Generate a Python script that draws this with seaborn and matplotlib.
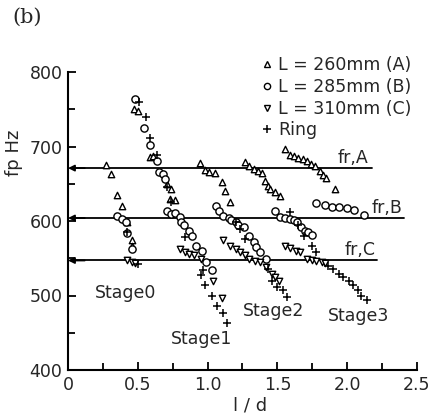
import numpy as np
import pandas as pd
import seaborn as sns
import matplotlib
matplotlib.use("Agg")
import matplotlib.pyplot as plt
from matplotlib.lines import Line2D

# ---- measured points (l/d, fp in Hz) ----
a_x = [0.27, 0.31, 0.35, 0.385, 0.42, 0.456, 0.46,
       0.47, 0.50, 0.59, 0.61, 0.71, 0.74, 0.73, 0.77,
       0.945, 0.98, 1.01, 1.05, 1.10, 1.125, 1.16,
       1.27, 1.30, 1.33, 1.36, 1.39, 1.41, 1.43, 1.45, 1.48, 1.52,
       1.555, 1.59, 1.62, 1.65, 1.68, 1.71, 1.74, 1.77, 1.805, 1.83, 1.85, 1.91]
a_y = [675, 663, 635, 620, 599, 574, 567,
       751, 747, 686, 687, 649, 643, 629, 628,
       678, 668, 666, 664, 652, 640, 625,
       679, 674, 670, 667, 664, 654, 647, 643, 639, 634,
       696, 689, 687, 685, 683, 680, 677, 674, 667, 662, 658, 643]

b_x = [0.35, 0.385, 0.415, 0.42, 0.46,
       0.48, 0.545, 0.59, 0.64, 0.655, 0.68, 0.695, 0.71, 0.74, 0.77, 0.80,
       0.81, 0.83, 0.87, 0.89, 0.92, 0.96, 0.99, 1.03,
       1.06, 1.08, 1.11, 1.15, 1.17, 1.20, 1.22, 1.26, 1.30, 1.33, 1.35, 1.375, 1.42,
       1.48, 1.52, 1.555, 1.59, 1.62, 1.64, 1.67, 1.70, 1.72, 1.745,
       1.78, 1.84, 1.89, 1.94, 2.00, 2.05, 2.12]
b_y = [607, 603, 598, 584, 563,
       764, 725, 702, 680, 666, 663, 656, 613, 609, 611, 605,
       598, 594, 587, 580, 567, 560, 545, 534,
       620, 614, 607, 604, 602, 599, 595, 592, 580, 572, 565, 558, 549,
       614, 605, 604, 603, 602, 598, 592, 587, 585, 581,
       624, 621, 619, 619, 618, 615, 608]

c_x = [0.42, 0.456, 0.48,
       0.80, 0.84, 0.87, 0.90, 0.95, 1.04, 1.10,
       1.11, 1.16, 1.20, 1.23, 1.27, 1.30, 1.34, 1.375, 1.42, 1.46, 1.48, 1.51,
       1.555, 1.59, 1.63, 1.66, 1.71, 1.745, 1.78, 1.82, 1.84]
c_y = [547, 545, 544,
       563, 558, 556, 554, 549, 520, 496,
       574, 567, 563, 559, 554, 549, 546, 545, 538, 529, 525, 520,
       567, 564, 560, 558, 549, 547, 546, 545, 544]

r_x = [0.42, 0.50,
       0.51, 0.56, 0.59, 0.64, 0.71, 0.74, 0.84, 0.95, 0.97, 0.98, 1.03, 1.07, 1.11, 1.14,
       1.20, 1.23, 1.27, 1.43, 1.46, 1.50, 1.54, 1.57,
       1.59, 1.65, 1.69, 1.745, 1.78, 1.865, 1.90, 1.94, 1.97, 2.01, 2.04, 2.08, 2.10, 2.14]
r_y = [585, 542,
       760, 739, 712, 688, 645, 625, 578, 527, 534, 514, 500, 486, 476, 463,
       598, 589, 576, 536, 520, 512, 507, 498,
       612, 594, 580, 567, 558, 540, 536, 529, 525, 519, 514, 507, 500, 494]

series_names = ["A", "B", "C", "Ring"]
legend_labels = ["L = 260mm (A)", "L = 285mm (B)", "L = 310mm (C)", "Ring"]

# resonance frequencies of the pipes
fr_names = ["fr,A", "fr,B", "fr,C"]
fr_values = [671, 604, 547]
fr_ends = [2.18, 2.41, 2.21]
fr_label_x = [2.04, 2.285, 2.09]

stage_labels = ["Stage0", "Stage1", "Stage2", "Stage3"]
stage_x = [0.415, 0.96, 1.475, 2.08]
stage_y = [503, 441, 479, 472]

df = pd.concat([
    pd.DataFrame({"ld": a_x, "fp": a_y, "series": "A"}),
    pd.DataFrame({"ld": b_x, "fp": b_y, "series": "B"}),
    pd.DataFrame({"ld": c_x, "fp": c_y, "series": "C"}),
    pd.DataFrame({"ld": r_x, "fp": r_y, "series": "Ring"}),
], ignore_index=True)

sns.set_theme(style="ticks")
plt.rcParams["font.family"] = ["DejaVu Sans"]

fig = plt.figure(figsize=(4.31, 4.17), dpi=100)
ax = fig.add_axes([68 / 431, 1 - 370 / 417, (417 - 68) / 431, (370 - 72) / 417])

markers = {"A": "^", "B": "o", "C": "v", "Ring": "+"}
sizes_pt = {"A": 4.6, "B": 5.2, "C": 4.6, "Ring": 5.5}

# reference lines with arrows toward the frequency axis
for name, val, end, lx in zip(fr_names, fr_values, fr_ends, fr_label_x):
    ax.plot([0.03, end], [val, val], color="black", lw=1.3, zorder=1)
    ax.annotate("", xy=(0.0, val), xytext=(0.12, val),
                arrowprops=dict(arrowstyle="-|>", color="black", lw=1.3,
                                mutation_scale=9, shrinkA=0, shrinkB=0),
                zorder=1)
    ax.text(lx, val + 2, name, ha="center", va="bottom", fontsize=12.5)

for s in series_names:
    sub = df[df["series"] == s]
    if s == "Ring":
        sns.scatterplot(data=sub, x="ld", y="fp", marker="+", s=sizes_pt[s] ** 2,
                        color="black", linewidth=1.1, ax=ax, zorder=3, legend=False)
    else:
        sns.scatterplot(data=sub, x="ld", y="fp", marker=markers[s], s=sizes_pt[s] ** 2,
                        facecolor="white", edgecolor="black", linewidth=1.0,
                        ax=ax, zorder=2, legend=False)

for lab, sx, sy in zip(stage_labels, stage_x, stage_y):
    ax.text(sx, sy, lab, ha="center", va="center", fontsize=12.5)

ax.set_xlim(0, 2.5)
ax.set_ylim(400, 800)
ax.set_xticks([0, 0.5, 1.0, 1.5, 2.0, 2.5])
ax.set_xticklabels(["0", "0.5", "1.0", "1.5", "2.0", "2.5"])
ax.set_xticks(np.arange(0.25, 2.5, 0.5), minor=True)
ax.set_yticks([400, 500, 600, 700, 800])
ax.set_yticks(np.arange(450, 800, 100), minor=True)
ax.tick_params(which="major", direction="in", length=6, width=1.3,
               labelsize=12.5, color="black", pad=4)
ax.tick_params(which="minor", direction="in", length=5, width=1.3, color="black")
for side in ["top", "right"]:
    ax.spines[side].set_visible(False)
for side in ["left", "bottom"]:
    ax.spines[side].set_linewidth(1.5)
    ax.spines[side].set_color("black")

ax.set_xlabel("l / d", fontsize=13)
ax.set_ylabel("fp Hz", fontsize=13)
ax.xaxis.set_label_coords((250 - 68) / 349, -0.088)
ax.yaxis.set_label_coords(-0.13, 0.73)

handles = []
for s in series_names:
    if s == "Ring":
        handles.append(Line2D([], [], ls="", marker="+", ms=6, mew=1.1, color="black"))
    else:
        handles.append(Line2D([], [], ls="", marker=markers[s], ms=4.5, mew=1.0,
                              mfc="white", mec="black"))
fig.legend(handles, legend_labels, loc="upper left", bbox_to_anchor=(258 / 431, 1 - 56 / 417),
           frameon=False, fontsize=12.5, handletextpad=0.15, labelspacing=0.22,
           handlelength=1.0, borderaxespad=0, borderpad=0)

fig.text(12 / 431, 1 - 17 / 417, "(b)", fontsize=15, family="DejaVu Serif",
         ha="left", va="center")

fig.savefig("out.png", dpi=100)
